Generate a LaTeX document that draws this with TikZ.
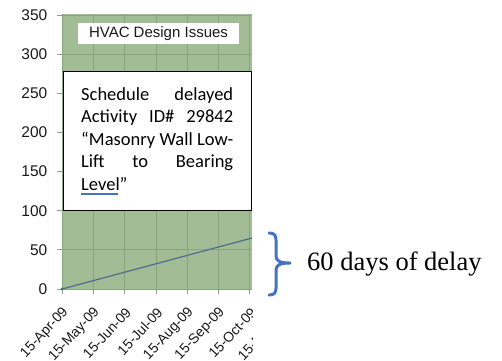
\documentclass[tikz,border=0pt]{standalone}
\usepackage{fontspec}
\setmainfont{Liberation Serif}
\newfontfamily\arialf{Liberation Sans}
\newfontfamily\calf{Carlito}
\definecolor{plotgreen}{HTML}{A2BD95}
\definecolor{gridgreen}{HTML}{8AA37F}
\definecolor{lineblue}{HTML}{4E6C8E}
\definecolor{bracecol}{HTML}{4472C4}
\definecolor{axistext}{HTML}{1A1A1A}
\begin{document}
\begin{tikzpicture}[x=1pt,y=-1pt,
  gridline/.style={draw=gridgreen, line width=0.8pt},
  ylab/.style={font=\arialf\fontsize{15.5}{15.5}\selectfont, text=axistext, anchor=east, inner sep=0pt},
  xlab/.style={font=\arialf\fontsize{14}{14}\selectfont, text=axistext, rotate=47, anchor=east, inner sep=0pt},
  boxline/.style={font=\calf\fontsize{18.5}{22.5}\selectfont, anchor=base west, inner sep=0pt}]
\useasboundingbox (0,0) rectangle (502,360);
\begin{scope}
  \clip (0,0) rectangle (252,360);
  \fill[plotgreen] (62,14) rectangle (252,289);
  \foreach \i in {0,...,6} \draw[gridline] (62+31.3*\i,14) -- (62+31.3*\i,294);
  \foreach \j in {0,...,7} \draw[gridline] (57,289-39.14*\j) -- (252,289-39.14*\j);
  \foreach \j/\v in {0/0,1/50,2/100,3/150,4/200,5/250,6/300,7/350}
    \node[ylab] (y\j) at (47.5,289-39.14*\j) {\v};
  \foreach \i/\t in {0/15-Apr-09,1/15-May-09,2/15-Jun-09,3/15-Jul-09,4/15-Aug-09,5/15-Sep-09,6/15-Oct-09,7/15-Nov-09}
    \node[xlab] (x\i) at (66+31.3*\i,310) {\t};
  \coordinate (d0) at (62,289);
  \coordinate (d1) at (252,238);
  \draw[lineblue, line width=1.2pt] (d0) -- (d1);
  \fill[lineblue] (d0) circle (1.6);
\end{scope}
\node[fill=white, minimum width=161pt, minimum height=21pt, inner sep=0pt,
      font=\arialf\fontsize{15}{15}\selectfont, text=axistext] (hvac) at (158.5,33.5) {HVAC Design Issues};
\draw[fill=white, line width=1pt] (63,71) rectangle (251,210);
\node[boxline] (l1) at (81,100) {\hbox to 152pt{Schedule\hfill delayed}};
\node[boxline] (l2) at (81,122.5) {\hbox to 152pt{Activity\hfill ID\#\hfill 29842}};
\node[boxline] (l3) at (81,145) {\hbox to 152pt{“Masonry\hfill Wall\hfill Low-}};
\node[boxline] (l4) at (81,167.5) {\hbox to 152pt{Lift\hfill to\hfill Bearing}};
\node[boxline] (l5) at (81,190) {Level”};
\draw[bracecol, line width=1.2pt] (81,194) -- (118,194);
\draw[bracecol, line width=3pt, line cap=round, line join=round]
  (269,233) .. controls (274,233) and (276,235) .. (276,240) -- (276,256)
  .. controls (276,261) and (280,263) .. (290,263)
  .. controls (280,263) and (276,265) .. (276,270) -- (276,288)
  .. controls (276,293) and (274,295) .. (269,295);
\node[font=\fontsize{26.5}{26.5}\selectfont, anchor=west, inner sep=0pt] (delay) at (307,264) {60 days of delay};
\end{tikzpicture}
\end{document}
